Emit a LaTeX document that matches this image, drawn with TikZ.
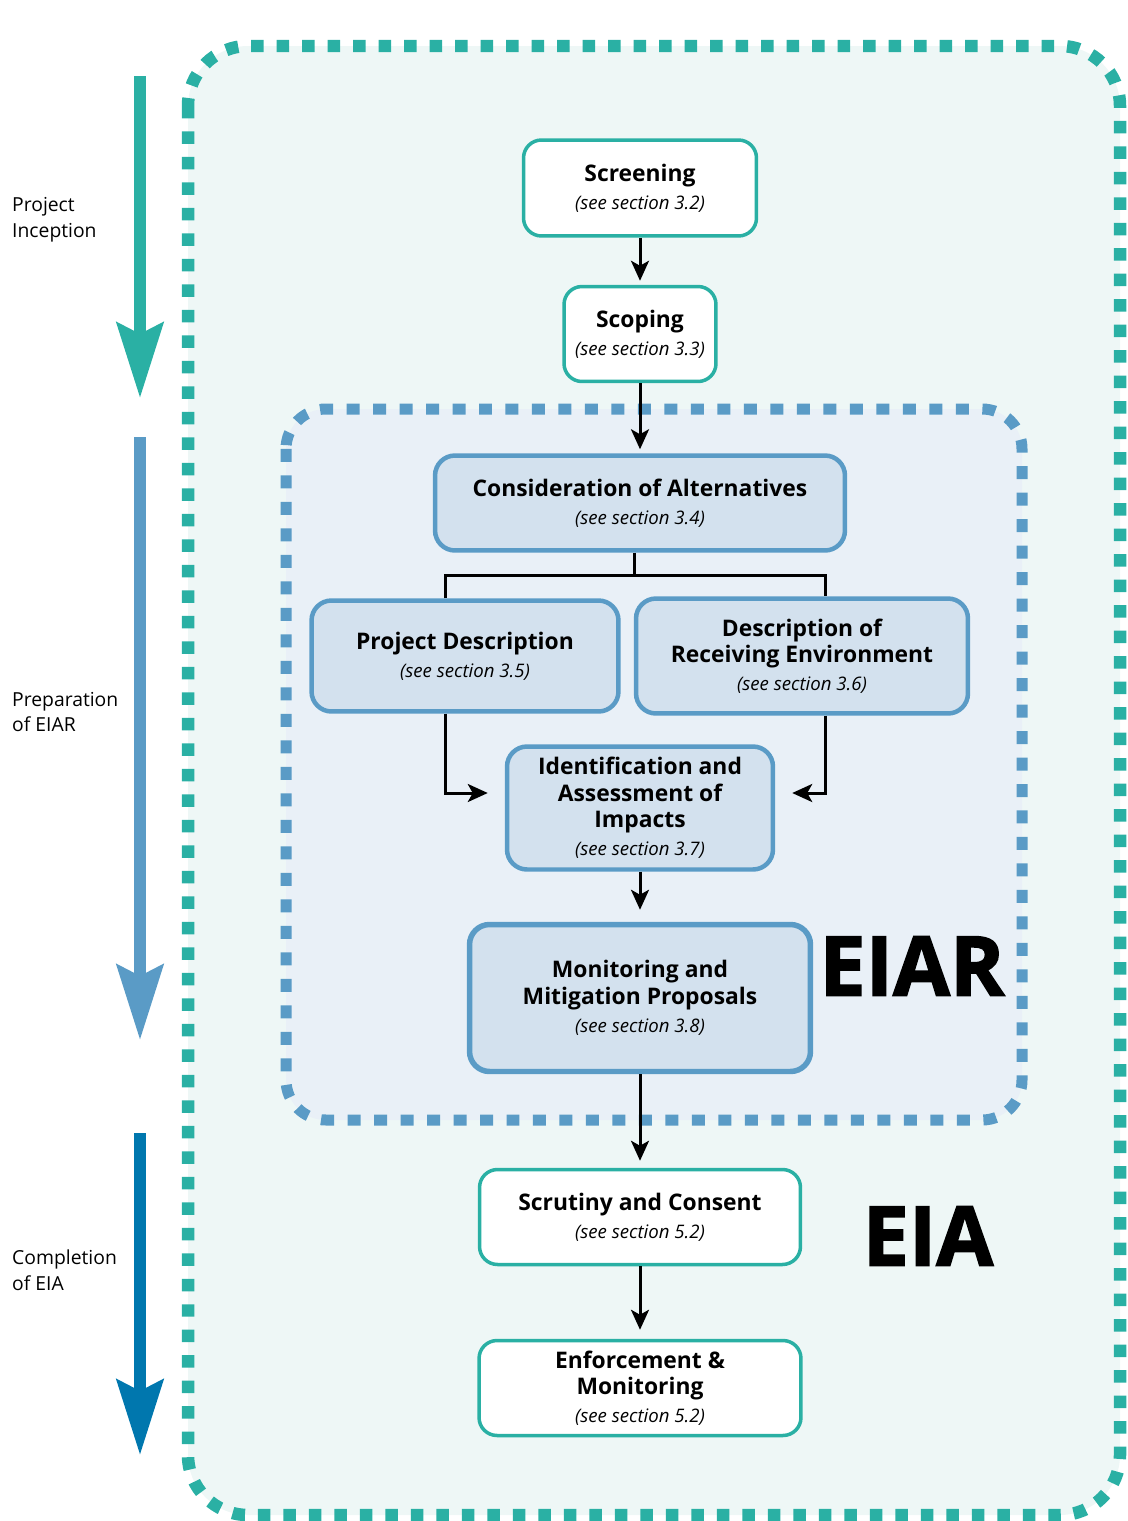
\documentclass[tikz,border=0pt]{standalone}
\usepackage{fontspec}
\setmainfont{Open Sans}
\newfontfamily\heavyfont[FakeBold=2]{Open Sans}
\usetikzlibrary{arrows.meta}
\definecolor{eiateal}{HTML}{2AB0A4}
\definecolor{eiafill}{HTML}{EEF7F6}
\definecolor{eiarblue}{HTML}{5A9BC6}
\definecolor{eiarfill}{HTML}{E9F0F7}
\definecolor{boxfill}{HTML}{D3E1EE}
\definecolor{darkblue}{HTML}{0077AE}
\newcommand\ttl{\fontsize{13}{15}\selectfont\bfseries}
\newcommand\sub{\fontsize{10.6}{11}\selectfont\mdseries\itshape}

\begin{document}
\begin{tikzpicture}[x=0.02cm,y=-0.02cm,
  tealbox/.style={draw=eiateal,line width=0.07cm,fill=white,rounded corners=0.36cm,align=center,font=\ttl,inner sep=2pt},
  bluebox/.style={draw=eiarblue,line width=0.09cm,fill=boxfill,rounded corners=0.4cm,align=center,font=\ttl,inner sep=2pt},
  line/.style={draw=black,line width=0.06cm},
  conn/.style={line,-{Stealth[length=0.4cm,width=0.36cm,inset=0.1cm]},shorten >=0.08cm},
  phase/.style={anchor=west,align=left,font=\fontsize{11}{14.7}\selectfont},
  bigword/.style={font=\fontsize{47}{47}\selectfont\heavyfont\bfseries},
  phasearrow/.style={line width=0.24cm,-{Stealth[length=1.5cm,width=0.92cm,inset=0.22cm]}}]
  \useasboundingbox (0,0) rectangle (1127,1521);

  %%%%% frames %%%%%
  \draw[eiateal,fill=eiafill,line width=0.25cm,dash pattern=on 0.25cm off 0.26cm,rounded corners=1.2cm]
    (188,46) rectangle (1120,1515);
  \draw[eiarblue,fill=eiarfill,line width=0.22cm,dash pattern=on 0.26cm off 0.27cm,rounded corners=0.8cm]
    (286,409) rectangle (1022,1120);

  %%%%% phases %%%%%
  \draw[phasearrow,eiateal] (140,76) -- (140,398);
  \draw[phasearrow,eiarblue] (140,437) -- (140,1040);
  \draw[phasearrow,darkblue] (140,1133) -- (140,1455);
  \node[phase] (inception) at (6,220) {Project\\Inception};
  \node[phase] (preparation) at (6,712) {Preparation\\of EIAR};
  \node[phase] (completion) at (6,1270) {Completion\\of EIA};

  %%%%% steps %%%%%
  \node[tealbox,minimum width=4.66cm,minimum height=1.92cm] (screen) at (640,188)
    {Screening\\[1pt]{\sub (see section 3.2)}};
  \node[tealbox,minimum width=3.04cm,minimum height=1.9cm] (scope) at (640,334)
    {Scoping\\[1pt]{\sub (see section 3.3)}};
  \node[bluebox,minimum width=8.2cm,minimum height=1.9cm] (altern) at (640,503)
    {Consideration of Alternatives\\[1pt]{\sub (see section 3.4)}};
  \node[bluebox,minimum width=6.14cm,minimum height=2.22cm] (projdesc) at (465,656)
    {Project Description\\[1pt]{\sub (see section 3.5)}};
  \node[bluebox,minimum width=6.64cm,minimum height=2.3cm] (recenv) at (802,656)
    {Description of\\Receiving Environment\\[1pt]{\sub (see section 3.6)}};
  \node[bluebox,minimum width=5.32cm,minimum height=2.46cm] (impacts) at (640,808)
    {Identification and\\Assessment of\\Impacts\\[1pt]{\sub (see section 3.7)}};
  \node[bluebox,line width=0.11cm,minimum width=6.82cm,minimum height=2.94cm] (mitig) at (640,998)
    {Monitoring and\\Mitigation Proposals\\[1pt]{\sub (see section 3.8)}};
  \node[tealbox,minimum width=6.42cm,minimum height=1.9cm] (scrutiny) at (640,1217)
    {Scrutiny and Consent\\[1pt]{\sub (see section 5.2)}};
  \node[tealbox,minimum width=6.44cm,minimum height=1.9cm] (enforce) at (640,1388)
    {Enforcement \&\\Monitoring\\[1pt]{\sub (see section 5.2)}};

  \node[bigword] (eiar) at (912,966) {EIAR};
  \node[bigword] (eia) at (928,1236) {EIA};

  %%%%% connectors %%%%%
  \coordinate (split) at (634,575);
  \coordinate (leftx) at (445,0);
  \coordinate (rightx) at (825,0);
  \draw[conn] (screen) -- (scope);
  \draw[conn] (scope) -- (altern);
  \draw[line] (altern.south -| split) -- (split);
  \draw[line] (projdesc.north -| leftx) |- (split) -| (recenv.north -| rightx);
  \draw[conn,shorten >=0.34cm] (projdesc.south -| leftx) |- ([yshift=0.3cm]impacts.west);
  \draw[conn,shorten >=0.34cm] (recenv.south -| rightx) |- ([yshift=0.3cm]impacts.east);
  \draw[conn,shorten >=0.24cm] (impacts) -- (mitig);
  \draw[conn,shorten >=0.14cm] (mitig) -- (scrutiny);
  \draw[conn,shorten >=0.18cm] (scrutiny) -- (enforce);
\end{tikzpicture}
\end{document}
